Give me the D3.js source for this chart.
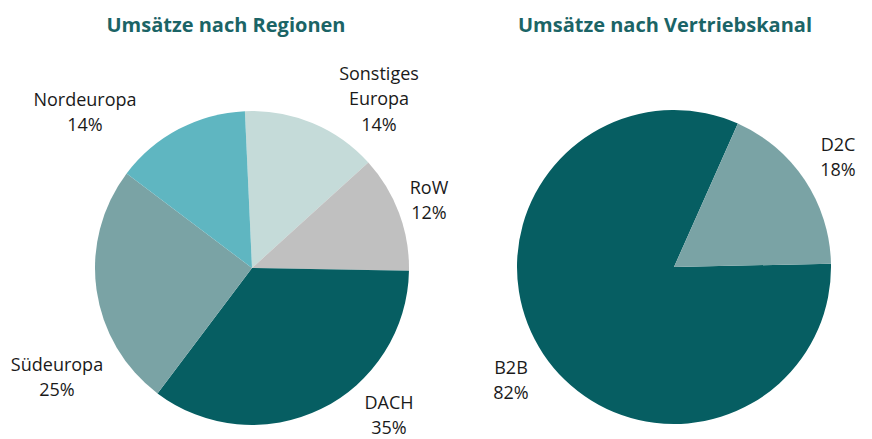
<!DOCTYPE html>
<html>
<head>
<meta charset="utf-8">
<script src="https://cdn.jsdelivr.net/npm/d3@7"></script>
<style>
  body { margin: 0; background: #fff; }
  svg text { font-family: "Open Sans", sans-serif; }
</style>
</head>
<body>
<div id="chart"></div>
<script>
const regionNames = ["Sonstiges Europa", "RoW", "DACH", "Südeuropa", "Nordeuropa"];
const regionShares = [14, 12, 35, 25, 14];
const regionColors = ["#c5dbd9", "#c0c0c0", "#065e62", "#7aa3a5", "#5fb6c1"];

const channelNames = ["B2B", "D2C"];
const channelShares = [82, 18];
const channelColors = ["#065e62", "#7aa3a5"];

const width = 872, height = 439, radius = 157;

const svg = d3.select("#chart").append("svg")
  .attr("width", width)
  .attr("height", height);

const arc = d3.arc().innerRadius(0).outerRadius(radius);

// label block centre relative to pie centre (Excel "best fit" placement)
const regionLabelPos = [[127, -169], [177, -68], [137, 147], [-195, 109], [-167, -156]];
const channelLabelPos = [[-163, 113], [164, -110]];

function drawPie(cfg) {
  const g = svg.append("g").attr("transform", `translate(${cfg.cx},${cfg.cy})`);
  const pie = d3.pie().sort(null).value((d) => d)
    .startAngle(cfg.start)
    .endAngle(cfg.start + 2 * Math.PI);
  const arcs = pie(cfg.values);

  g.selectAll("path")
    .data(arcs)
    .join("path")
    .attr("d", arc)
    .attr("fill", (d, i) => cfg.colors[i]);

  const labels = g.selectAll("text.lbl")
    .data(arcs)
    .join("text")
    .attr("class", "lbl")
    .attr("text-anchor", "middle")
    .attr("font-size", 18)
    .attr("fill", "#1a1a1a");

  labels.each(function (d, i) {
    const lines = cfg.names[i].split(" ");
    lines.push(d3.format(".0%")(d.value / 100));
    const [lx, ly] = cfg.labelPos[i];
    const lh = 25.5;
    const top = ly - (lines.length - 1) * lh / 2;
    d3.select(this).selectAll("tspan")
      .data(lines)
      .join("tspan")
      .attr("x", lx)
      .attr("y", (t, k) => top + k * lh)
      .attr("dy", "0.35em")
      .text((t) => t);
  });

  svg.append("text")
    .attr("x", cfg.titleX)
    .attr("y", 32)
    .attr("text-anchor", "middle")
    .attr("font-size", 20)
    .attr("font-weight", "bold")
    .attr("fill", "#1b6466")
    .text(cfg.title);
}

drawPie({
  cx: 252, cy: 268,
  start: -2.6 * Math.PI / 180,
  values: regionShares,
  names: regionNames,
  colors: regionColors,
  labelPos: regionLabelPos,
  title: "Umsätze nach Regionen",
  titleX: 226
});

drawPie({
  cx: 674, cy: 267,
  start: 88.8 * Math.PI / 180,
  values: channelShares,
  names: channelNames,
  colors: channelColors,
  labelPos: channelLabelPos,
  title: "Umsätze nach Vertriebskanal",
  titleX: 665
});
</script>
</body>
</html>
